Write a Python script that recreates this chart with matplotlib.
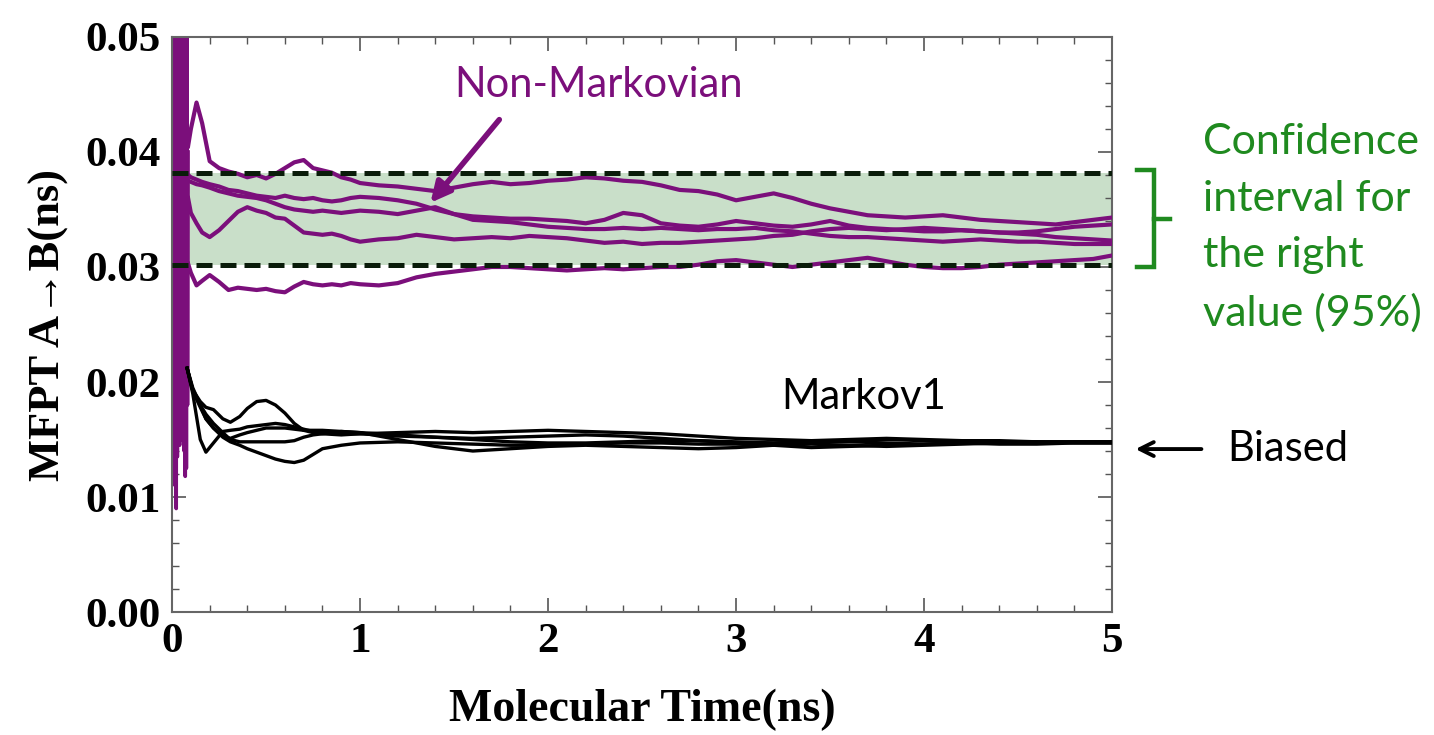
import matplotlib
matplotlib.use("Agg")
import matplotlib.pyplot as plt
from matplotlib.ticker import MultipleLocator, FormatStrFormatter

# ---------------- data ----------------
# early burst of the non-Markovian estimates (first ~0.085 ns)
burst_t = [0.000, 0.004, 0.007, 0.010, 0.013, 0.016, 0.019, 0.022, 0.025, 0.028,
           0.031, 0.034, 0.037, 0.040, 0.043, 0.046, 0.049, 0.052, 0.055, 0.058,
           0.061, 0.064, 0.067, 0.070, 0.073, 0.076, 0.079, 0.082, 0.085]
burst_v = [0.060, 0.021, 0.060, 0.016, 0.060, 0.011, 0.060, 0.009, 0.060, 0.0135,
           0.060, 0.015, 0.060, 0.0145, 0.060, 0.016, 0.060, 0.015, 0.060, 0.0165,
           0.060, 0.014, 0.060, 0.0118, 0.060, 0.0125, 0.060, 0.018, 0.040]

# time grid of the non-Markovian runs (ns)
t_nm = [0.085, 0.10, 0.13, 0.16, 0.20, 0.25, 0.30, 0.35, 0.40, 0.45,
        0.50, 0.55, 0.60, 0.65, 0.70, 0.75, 0.80, 0.85, 0.90, 0.95,
        1.0, 1.1, 1.2, 1.3, 1.4, 1.5, 1.6, 1.7, 1.8, 1.9,
        2.0, 2.1, 2.2, 2.3, 2.4, 2.5, 2.6, 2.7, 2.8, 2.9,
        3.0, 3.1, 3.2, 3.3, 3.4, 3.5, 3.6, 3.7, 3.8, 3.9,
        4.0, 4.1, 4.2, 4.3, 4.4, 4.5, 4.6, 4.7, 4.8, 4.9, 5.0]

nm_run1 = [0.0405, 0.0420, 0.0443, 0.0425, 0.0392, 0.0386, 0.0383, 0.0381, 0.0378, 0.0380,
           0.0377, 0.0381, 0.0386, 0.0391, 0.0393, 0.0386, 0.0384, 0.0382, 0.0378, 0.0376,
           0.0373, 0.0371, 0.0370, 0.0368, 0.0366, 0.0369, 0.0372, 0.0374, 0.0372, 0.0373,
           0.0375, 0.0376, 0.0378, 0.0377, 0.0375, 0.0374, 0.0371, 0.0367, 0.0366, 0.0363,
           0.0358, 0.0361, 0.0364, 0.0360, 0.0355, 0.0351, 0.0348, 0.0345, 0.0344, 0.0343,
           0.0344, 0.0345, 0.0343, 0.0341, 0.0340, 0.0339, 0.0338, 0.0337, 0.0339, 0.0341, 0.0343]
nm_run2 = [0.0380, 0.0378, 0.0376, 0.0374, 0.0372, 0.0370, 0.0367, 0.0366, 0.0364, 0.0362,
           0.0361, 0.0360, 0.0362, 0.0360, 0.0359, 0.0360, 0.0358, 0.0357, 0.0358, 0.0360,
           0.0361, 0.0360, 0.0358, 0.0355, 0.0350, 0.0346, 0.0344, 0.0343, 0.0342, 0.0342,
           0.0341, 0.0340, 0.0338, 0.0341, 0.0347, 0.0345, 0.0338, 0.0336, 0.0335, 0.0337,
           0.0340, 0.0338, 0.0336, 0.0335, 0.0337, 0.0340, 0.0336, 0.0334, 0.0333, 0.0332,
           0.0331, 0.0331, 0.0332, 0.0331, 0.0330, 0.0330, 0.0331, 0.0333, 0.0335, 0.0336, 0.0337]
nm_run3 = [0.0375, 0.0374, 0.0372, 0.0371, 0.0369, 0.0366, 0.0364, 0.0362, 0.0361, 0.0360,
           0.0358, 0.0355, 0.0352, 0.0350, 0.0349, 0.0348, 0.0349, 0.0348, 0.0347, 0.0348,
           0.0349, 0.0348, 0.0346, 0.0349, 0.0352, 0.0346, 0.0341, 0.0340, 0.0339, 0.0337,
           0.0335, 0.0334, 0.0333, 0.0333, 0.0334, 0.0333, 0.0334, 0.0333, 0.0332, 0.0333,
           0.0333, 0.0334, 0.0332, 0.0331, 0.0329, 0.0327, 0.0326, 0.0326, 0.0325, 0.0324,
           0.0323, 0.0322, 0.0323, 0.0324, 0.0323, 0.0322, 0.0322, 0.0321, 0.0320, 0.0320, 0.0320]
nm_run4 = [0.0360, 0.0347, 0.0338, 0.0330, 0.0326, 0.0332, 0.0340, 0.0348, 0.0352, 0.0349,
           0.0347, 0.0343, 0.0342, 0.0336, 0.0330, 0.0329, 0.0328, 0.0329, 0.0327, 0.0324,
           0.0322, 0.0324, 0.0325, 0.0328, 0.0326, 0.0324, 0.0325, 0.0326, 0.0325, 0.0327,
           0.0326, 0.0325, 0.0323, 0.0321, 0.0322, 0.0320, 0.0321, 0.0321, 0.0322, 0.0323,
           0.0324, 0.0325, 0.0327, 0.0328, 0.0331, 0.0333, 0.0334, 0.0333, 0.0332, 0.0333,
           0.0334, 0.0333, 0.0332, 0.0331, 0.0330, 0.0329, 0.0328, 0.0326, 0.0325, 0.0324, 0.0323]
nm_run5 = [0.0303, 0.0295, 0.0284, 0.0288, 0.0293, 0.0287, 0.0280, 0.0282, 0.0281, 0.0280,
           0.0281, 0.0279, 0.0278, 0.0283, 0.0287, 0.0285, 0.0284, 0.0285, 0.0284, 0.0286,
           0.0285, 0.0284, 0.0286, 0.0291, 0.0294, 0.0296, 0.0298, 0.0300, 0.0300, 0.0299,
           0.0298, 0.0297, 0.0298, 0.0299, 0.0298, 0.0299, 0.0300, 0.0300, 0.0302, 0.0305,
           0.0306, 0.0304, 0.0302, 0.0300, 0.0302, 0.0304, 0.0306, 0.0308, 0.0305, 0.0302,
           0.0300, 0.0299, 0.0299, 0.0300, 0.0302, 0.0303, 0.0304, 0.0305, 0.0306, 0.0307, 0.0310]

# time grid of the Markov1 runs (ns)
t_mk = [0.08, 0.11, 0.15, 0.18, 0.22, 0.27, 0.31, 0.36, 0.40, 0.45,
        0.50, 0.55, 0.60, 0.65, 0.70, 0.75, 0.80, 0.90, 1.0, 1.2,
        1.4, 1.6, 1.8, 2.0, 2.2, 2.4, 2.6, 2.8, 3.0, 3.2,
        3.4, 3.6, 3.8, 4.0, 4.2, 4.4, 4.6, 4.8, 5.0]

mk_run1 = [0.0212, 0.0193, 0.0183, 0.0178, 0.0176, 0.0168, 0.0165, 0.0170, 0.0177, 0.0183,
           0.0184, 0.0180, 0.0173, 0.0164, 0.0158, 0.0156, 0.0155, 0.0154, 0.0155, 0.0153,
           0.0152, 0.0150, 0.0148, 0.0147, 0.0147, 0.0148, 0.0149, 0.0149, 0.0148, 0.0147,
           0.0148, 0.0149, 0.0150, 0.0149, 0.0148, 0.0147, 0.0147, 0.0148, 0.0148]
mk_run2 = [0.0212, 0.0190, 0.0150, 0.0139, 0.0147, 0.0157, 0.0158, 0.0159, 0.0161, 0.0162,
           0.0163, 0.0164, 0.0163, 0.0161, 0.0159, 0.0157, 0.0156, 0.0155, 0.0155, 0.0156,
           0.0157, 0.0156, 0.0157, 0.0158, 0.0157, 0.0156, 0.0155, 0.0153, 0.0151, 0.0150,
           0.0149, 0.0150, 0.0151, 0.0150, 0.0149, 0.0149, 0.0148, 0.0148, 0.0148]
mk_run3 = [0.0212, 0.0195, 0.0180, 0.0168, 0.0160, 0.0152, 0.0148, 0.0145, 0.0142, 0.0139,
           0.0136, 0.0133, 0.0131, 0.0130, 0.0132, 0.0137, 0.0142, 0.0145, 0.0147, 0.0148,
           0.0147, 0.0146, 0.0145, 0.0145, 0.0146, 0.0147, 0.0147, 0.0146, 0.0146, 0.0145,
           0.0143, 0.0144, 0.0145, 0.0146, 0.0147, 0.0146, 0.0146, 0.0147, 0.0147]
mk_run4 = [0.0212, 0.0192, 0.0178, 0.0168, 0.0160, 0.0153, 0.0151, 0.0154, 0.0156, 0.0158,
           0.0160, 0.0160, 0.0160, 0.0159, 0.0158, 0.0158, 0.0158, 0.0157, 0.0156, 0.0154,
           0.0152, 0.0151, 0.0152, 0.0153, 0.0154, 0.0153, 0.0151, 0.0149, 0.0147, 0.0147,
           0.0148, 0.0148, 0.0147, 0.0146, 0.0147, 0.0148, 0.0148, 0.0147, 0.0147]
mk_run5 = [0.0212, 0.0193, 0.0180, 0.0172, 0.0164, 0.0156, 0.0150, 0.0148, 0.0148, 0.0148,
           0.0148, 0.0148, 0.0148, 0.0149, 0.0152, 0.0154, 0.0155, 0.0157, 0.0156, 0.0150,
           0.0144, 0.0140, 0.0142, 0.0144, 0.0145, 0.0144, 0.0143, 0.0142, 0.0143, 0.0145,
           0.0146, 0.0145, 0.0144, 0.0145, 0.0146, 0.0147, 0.0148, 0.0148, 0.0148]

# 95% confidence interval of the reference MFPT
ci_low, ci_high = 0.0302, 0.0382

x_ticks = [0, 1, 2, 3, 4, 5]
y_ticks = [0.00, 0.01, 0.02, 0.03, 0.04, 0.05]

# ---------------- style ----------------
PURPLE = "#7b0f7b"
GREEN_TXT = "#1f8a1f"
BAND = "#c9dfc9"
SERIF = ["Liberation Serif", "DejaVu Serif"]
SANS = ["Lato", "DejaVu Sans"]

fig = plt.figure(figsize=(14.34, 7.35), dpi=100)
ax = fig.add_axes([0.120, 0.1673, 0.6555, 0.7824])

ax.fill_between([0, 5], [ci_low, ci_low], [ci_high, ci_high], color=BAND, zorder=1, lw=0)

ax.plot(burst_t, burst_v, color=PURPLE, lw=2.6, zorder=2)
for run in (nm_run1, nm_run2, nm_run3, nm_run4, nm_run5):
    ax.plot(t_nm, run, color=PURPLE, lw=3.0, zorder=3)

for run in (mk_run1, mk_run2, mk_run3, mk_run4, mk_run5):
    ax.plot(t_mk, run, color="black", lw=2.4, zorder=3)

for yv in (ci_low, ci_high):
    ax.plot([0, 5], [yv, yv], color="#0a1c0a", lw=3.6, dashes=(3.2, 1.6),
            solid_capstyle="butt", dash_capstyle="butt", zorder=4)

ax.set_xlim(0, 5)
ax.set_ylim(0, 0.05)
ax.set_xticks(x_ticks)
ax.set_yticks(y_ticks)
ax.yaxis.set_major_formatter(FormatStrFormatter("%.2f"))
ax.xaxis.set_minor_locator(MultipleLocator(0.2))
ax.yaxis.set_minor_locator(MultipleLocator(0.002))
ax.tick_params(which="both", direction="in", top=True, right=True, color="#555555")
ax.tick_params(which="major", length=10, width=1.2, pad=8)
ax.tick_params(which="minor", length=5, width=1.0)
for lab in ax.get_xticklabels() + ax.get_yticklabels():
    lab.set_fontfamily(SERIF)
    lab.set_fontweight("bold")
    lab.set_fontsize(31)
for sp in ax.spines.values():
    sp.set_color("#666666")
    sp.set_linewidth(1.5)

ax.set_xlabel("Molecular Time(ns)", fontfamily=SERIF, fontweight="bold", fontsize=33, labelpad=20)
ax.set_ylabel("MFPT A\u2192B(ns)", fontfamily=SERIF, fontweight="bold", fontsize=32, labelpad=12)

# annotations
ax.text(2.27, 0.0458, "Non-Markovian", color=PURPLE, fontfamily=SANS, fontsize=30,
        ha="center", va="center", zorder=6)
ax.annotate("", xy=(1.365, 0.0354), xytext=(1.75, 0.0430),
            arrowprops=dict(arrowstyle="-|>", color=PURPLE, lw=4.0, mutation_scale=30),
            zorder=6)
ax.text(3.68, 0.0187, "Markov1", color="black", fontfamily=SANS, fontsize=30,
        ha="center", va="center", zorder=6)

ax.annotate("", xy=(5.11, 0.01417), xytext=(5.49, 0.01417), xycoords="data",
            arrowprops=dict(arrowstyle="->", color="black", lw=2.8, mutation_scale=25),
            annotation_clip=False)
fig.text(1227 / 1434, 1 - 449 / 735, "Biased", color="black", fontfamily=SANS,
         fontsize=30, ha="left", va="center")

# bracket marking the confidence interval
bx, bl, br = 5.224, 5.13, 5.31
ax.plot([bl, bx, bx, bl], [0.0384, 0.0384, 0.0300, 0.0300], color=GREEN_TXT, lw=3.2,
        clip_on=False, solid_joinstyle="miter")
ax.plot([bx, br], [0.0342, 0.0342], color=GREEN_TXT, lw=3.2, clip_on=False)

fig.text(1203 / 1434, 1 - 123 / 735, "Confidence\ninterval for\nthe right\nvalue (95%)",
         color=GREEN_TXT, fontfamily=SANS, fontsize=31, ha="left", va="top", linespacing=1.6)

fig.savefig("out.png", dpi=100)
